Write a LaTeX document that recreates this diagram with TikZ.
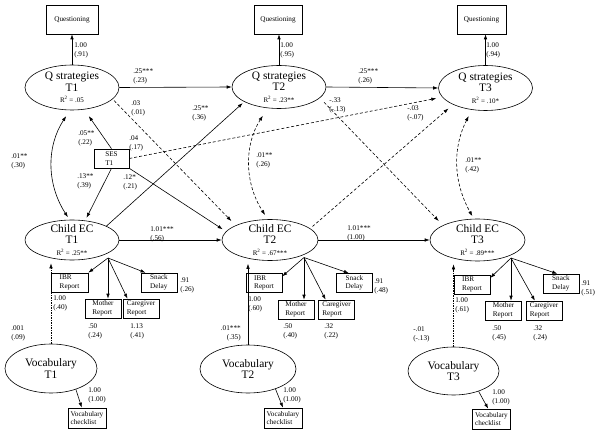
\documentclass[tikz,border=0pt]{standalone}
\usepackage{fontspec}
\setmainfont{Liberation Serif}
\usetikzlibrary{shapes.geometric,arrows.meta,calc}

\begin{document}
\begin{tikzpicture}[x=1pt,y=-1pt,line width=0.6pt,
  latent/.style={draw,ellipse,inner xsep=0pt,inner ysep=-4pt,minimum width=94pt,minimum height=45pt,align=center,font=\fontsize{11.4}{11.5}\selectfont},
  obs/.style={draw,inner sep=0pt,minimum width=36pt,minimum height=19pt,align=left,font=\fontsize{7.2}{8.5}\selectfont},
  est/.style={inner sep=0pt,anchor=west,align=left,font=\fontsize{7.2}{9}\selectfont},
  arr/.style={-{Latex[length=5pt,width=3.5pt]}},
  cov/.style={{Latex[length=5pt,width=3.5pt]}-{Latex[length=5pt,width=3.5pt]}},
  ns/.style={dash pattern=on 3pt off 2pt},
  dns/.style={dash pattern=on 1.5pt off 1pt}]
\useasboundingbox (0,0) rectangle (601,435);

\node[latent] (q1) at (72,87.5) {Q strategies\\T1\\{\fontsize{7}{8}\selectfont R\textsuperscript{2} = .05}};
\node[latent,minimum height=43pt] (q2) at (279,87) {Q strategies\\T2\\{\fontsize{7}{8}\selectfont R\textsuperscript{2} = .23**}};
\node[latent] (q3) at (485.5,88) {Q strategies\\T3\\{\fontsize{7}{8}\selectfont R\textsuperscript{2} = .10*}};
\node[latent,minimum height=40pt] (e1) at (72,240) {Child EC\\T1\\{\fontsize{7}{8}\selectfont R\textsuperscript{2} = .25**}};
\node[latent,minimum width=96pt,minimum height=41pt] (e2) at (270,240) {Child EC\\T2\\{\fontsize{7}{8}\selectfont R\textsuperscript{2} = .67***}};
\node[latent,minimum width=95pt,minimum height=42pt] (e3) at (477.5,240) {Child EC\\T3\\{\fontsize{7}{8}\selectfont R\textsuperscript{2} = .89***}};
\node[latent,minimum width=92pt,minimum height=49pt] (v1) at (51,368.5) {Vocabulary\\T1};
\node[latent,minimum width=96pt,minimum height=48pt] (v2) at (248,369) {Vocabulary\\T2};
\node[latent,minimum width=91pt,minimum height=48pt] (v3) at (453.5,371) {Vocabulary\\T3};

\node[obs,minimum width=52pt,minimum height=29pt] (qb1) at (72,19.5) {Questioning};
\node[obs,minimum width=48pt,minimum height=29pt] (qb2) at (278,19.5) {Questioning};
\node[obs,minimum width=49pt,minimum height=29pt] (qb3) at (481.5,19.5) {Questioning};
\node[obs,minimum width=35pt] (ses) at (111.5,158.5) {SES\\T1};

\node[obs,minimum width=37pt] (ib1) at (69.5,282.5) {IBR\\Report};
\node[obs] (mo1) at (103,308.5) {Mother\\Report};
\node[obs] (ca1) at (141,308.5) {Caregiver\\Report};
\node[obs] (sn1) at (159,282.5) {Snack\\Delay};
\node[obs] (ib2) at (264,283) {IBR\\Report};
\node[obs] (mo2) at (296,309.5) {Mother\\Report};
\node[obs] (ca2) at (336.5,309.5) {Caregiver\\Report};
\node[obs] (sn2) at (354.5,283) {Snack\\Delay};
\node[obs] (ib3) at (472,284.5) {IBR\\Report};
\node[obs] (mo3) at (503.5,310.5) {Mother\\Report};
\node[obs] (ca3) at (544,310.5) {Caregiver\\Report};
\node[obs] (sn3) at (561,283.5) {Snack\\Delay};

\node[obs,minimum width=38pt,minimum height=20pt] (vc1) at (87,418) {Vocabulary\\checklist};
\node[obs,minimum width=38pt,minimum height=20pt] (vc2) at (283,418) {Vocabulary\\checklist};
\node[obs,minimum width=38pt,minimum height=20pt] (vc3) at (491.5,419) {Vocabulary\\checklist};

\coordinate (e1o) at ($(e1)+(36,18)$);
\coordinate (e2o) at ($(e2)+(34,17.5)$);
\coordinate (e3o) at ($(e3)+(33.5,18)$);

% loadings
\draw[arr] (q1.north) -- (q1.north |- qb1.south);
\draw[arr] (q2.north) -- (q2.north |- qb2.south);
\draw[arr] (q3.north) -- (q3.north |- qb3.south);
\draw[arr] (e1o) -- (ib1.north east);
\draw[arr] (e1o) -- (e1o |- mo1.north);
\draw[arr] (e1o) -- (ca1.144);
\draw[arr] (e1o) -- (sn1.144);
\draw[arr] (e2o) -- (ib2.20);
\draw[arr] (e2o) -- (e2o |- mo2.north);
\draw[arr] (e2o) -- (ca2.138);
\draw[arr] (e2o) -- (sn2.120);
\draw[arr] (e3o) -- (ib3.20);
\draw[arr] (e3o) -- (e3o |- mo3.north);
\draw[arr] (e3o) -- (ca3.133);
\draw[arr] (e3o) -- (sn3.111);
\draw[arr] (v1.-40) -- (vc1.117);
\draw[arr] (v2.-36) -- (vc2.north);
\draw[arr] (v3.-39) -- (vc3.108);

% paths
\draw[arr] (q1.east) -- (q2.west);
\draw[arr] (q2.east) -- (q3.west);
\draw[arr] (e1.east) -- (e2.west);
\draw[arr] (e2.east) -- (e3.west);
\draw[arr,ns,shorten <=2pt,shorten >=6pt] (q1.-16) -- (e2.157);
\draw[arr,shorten >=2pt] (e1.22) -- (q2.203);
\draw[arr,ns,shorten <=6pt,shorten >=6pt] (q2.-15) -- (e3.157);
\draw[arr,ns,shorten <=3pt,shorten >=6pt] (e2.16) -- (q3.207);
\draw[arr,shorten >=8pt] (ses.north) -- (q1.-61);
\draw[arr,shorten >=3pt] (ses.south) -- (e1.56);
\draw[arr,shorten >=4pt] (ses.south east) -- (e2.169);
\draw[arr,ns,shorten >=6pt] (ses.east) -- (q3.192);
\draw[arr,dns,shorten >=3pt] (v1.north) -- (v1.north |- e1.south);
\draw[arr,shorten >=3pt] (v2.north) -- (v2.north |- e2.south);
\draw[arr,dns,shorten >=3pt] (v3.north) -- (v3.north |- e3.south);

% covariances
\draw[cov,shorten <=7pt,shorten >=3pt] (q1.265) to[bend right=33] (e1.97);
\draw[cov,ns,shorten <=9pt,shorten >=5pt] (q2.242) to[bend right=33] (e2.96);
\draw[cov,ns,shorten <=7pt,shorten >=3pt] (q3.238) to[bend right=28] (e3.100);

% estimates
\node[est] (est1) at (74,50) {1.00\\(.91)};
\node[est] (est2) at (280,50) {1.00\\(.95)};
\node[est] (est3) at (486,50) {1.00\\(.94)};
\node[est] (est4) at (133,76) {.25***\\(.23)};
\node[est] (est5) at (358,76) {.25***\\(.26)};
\node[est] (est6) at (131,108) {.03\\(.01)};
\node[est] (est7) at (192,113) {.25**\\(.36)};
\node[est] (est8) at (78,138.5) {.05**\\(.22)};
\node[est] (est9) at (129,143.5) {.04\\(.17)};
\node[est] (est10) at (11,161) {.01**\\(.30)};
\node[est] (est11) at (77,181) {.13**\\(.39)};
\node[est] (est12) at (123,182.5) {.12*\\(.21)};
\node[est] (est13) at (329,105) {-.33\\(-.13)};
\node[est] (est14) at (407,113) {-.03\\(-.07)};
\node[est] (est15) at (256,160.5) {.01**\\(.26)};
\node[est] (est16) at (465,165) {.01**\\(.42)};
\node[est] (est17) at (150,234) {1.01***\\(.56)};
\node[est] (est18) at (347,233) {1.01***\\(1.00)};
\node[est] (est19) at (180,285) {.91\\(.26)};
\node[est] (est20) at (374,286) {.91\\(.48)};
\node[est] (est21) at (581,288) {.91\\(.51)};
\node[est] (est22) at (53,303) {1.00\\(.40)};
\node[est] (est23) at (248,304) {1.00\\(.60)};
\node[est] (est24) at (455,305) {1.00\\(.61)};
\node[est] (est25) at (88,331) {.50\\(.24)};
\node[est] (est26) at (130,331) {1.13\\(.41)};
\node[est] (est27) at (283,331) {.50\\(.40)};
\node[est] (est28) at (324,331) {.32\\(.22)};
\node[est] (est29) at (492,333) {.50\\(.45)};
\node[est] (est30) at (533,333) {.32\\(.24)};
\node[est] (est31) at (11,333) {.001\\(.09)};
\node[est,anchor=east,align=right] (est32) at (241,333.5) {.01***\\(.35)};
\node[est] (est33) at (413,334.5) {-.01\\(-.13)};
\node[est] (est34) at (88,395.5) {1.00\\(1.00)};
\node[est] (est35) at (283,395.5) {1.00\\(1.00)};
\node[est] (est36) at (492,397) {1.00\\(1.00)};
\end{tikzpicture}
\end{document}
